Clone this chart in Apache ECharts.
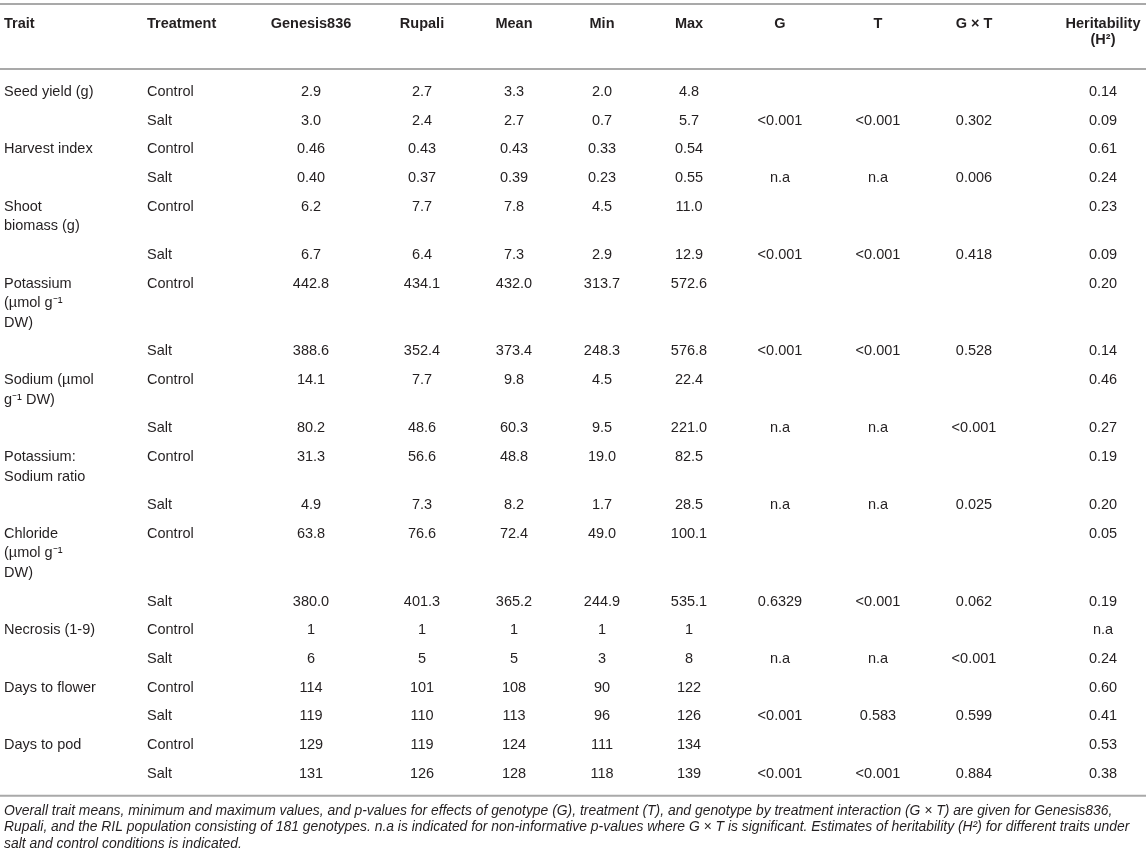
<!DOCTYPE html>
<html>
<head>
<meta charset="UTF-8">
<title>Trait summary</title>
<script type="text/javascript" src="https://cdn.jsdelivr.net/npm/echarts@6/dist/echarts.min.js"></script>
<style>html,body{margin:0;padding:0;background:#fff;}</style>
</head>
<body>
<div id="div" style="width:1146px;height:864px"></div>
<script type="text/javascript">
// table content
var headers = ['Trait', 'Treatment', 'Genesis836', 'Rupali', 'Mean', 'Min', 'Max', 'G', 'T', 'G \u00d7 T', 'Heritability\n(H\u00b2)'];
var traits = ['Seed yield (g)', 'Harvest index', 'Shoot\nbiomass (g)', 'Potassium\n(\u00b5mol g\u207b\u00b9\nDW)',
	'Sodium (\u00b5mol\ng\u207b\u00b9 DW)', 'Potassium:\nSodium ratio', 'Chloride\n(\u00b5mol g\u207b\u00b9\nDW)',
	'Necrosis (1-9)', 'Days to flower', 'Days to pod'];
var treatments = ['Control', 'Salt'];
var genesis836 = ['2.9', '3.0', '0.46', '0.40', '6.2', '6.7', '442.8', '388.6', '14.1', '80.2', '31.3', '4.9', '63.8', '380.0', '1', '6', '114', '119', '129', '131'];
var rupali = ['2.7', '2.4', '0.43', '0.37', '7.7', '6.4', '434.1', '352.4', '7.7', '48.6', '56.6', '7.3', '76.6', '401.3', '1', '5', '101', '110', '119', '126'];
var means = ['3.3', '2.7', '0.43', '0.39', '7.8', '7.3', '432.0', '373.4', '9.8', '60.3', '48.8', '8.2', '72.4', '365.2', '1', '5', '108', '113', '124', '128'];
var mins = ['2.0', '0.7', '0.33', '0.23', '4.5', '2.9', '313.7', '248.3', '4.5', '9.5', '19.0', '1.7', '49.0', '244.9', '1', '3', '90', '96', '111', '118'];
var maxs = ['4.8', '5.7', '0.54', '0.55', '11.0', '12.9', '572.6', '576.8', '22.4', '221.0', '82.5', '28.5', '100.1', '535.1', '1', '8', '122', '126', '134', '139'];
var pG = ['', '<0.001', '', 'n.a', '', '<0.001', '', '<0.001', '', 'n.a', '', 'n.a', '', '0.6329', '', 'n.a', '', '<0.001', '', '<0.001'];
var pT = ['', '<0.001', '', 'n.a', '', '<0.001', '', '<0.001', '', 'n.a', '', 'n.a', '', '<0.001', '', 'n.a', '', '0.583', '', '<0.001'];
var pGxT = ['', '0.302', '', '0.006', '', '0.418', '', '0.528', '', '<0.001', '', '0.025', '', '0.062', '', '<0.001', '', '0.599', '', '0.884'];
var heritability = ['0.14', '0.09', '0.61', '0.24', '0.23', '0.09', '0.20', '0.14', '0.46', '0.27', '0.19', '0.20', '0.05', '0.19', 'n.a', '0.24', '0.60', '0.41', '0.53', '0.38'];
var footnote = [
	'Overall trait means, minimum and maximum values, and p-values for effects of genotype (G), treatment (T), and genotype by treatment interaction (G \u00d7 T) are given for Genesis836,',
	'Rupali, and the RIL population consisting of 181 genotypes. n.a is indicated for non-informative p-values where G \u00d7 T is significant. Estimates of heritability (H\u00b2) for different traits under',
	'salt and control conditions is indicated.'
];

// layout (pixels of the 1146 x 864 axis space)
var colX = [4, 147, 311, 422, 514, 602, 689, 780, 878, 974, 1103];
var colAlign = ['left', 'left', 'center', 'center', 'center', 'center', 'center', 'center', 'center', 'center', 'center'];
var headY = 24, firstRowY = 92, rowPitch = 28.7, lineStep = 19.5, ruleGap = 22;
var noteGap = 15, noteStep = 16.5;
var textColor = '#231f20', ruleColor = '#a9a9a9';
var fontFamily = '"Liberation Sans", Arial, Helvetica, sans-serif';

var numCols = [genesis836, rupali, means, mins, maxs, pG, pT, pGxT, heritability];

// rows: each trait has Control and Salt lines
var rowY = [];
var cells = [];
var y = firstRowY;
traits.forEach(function (t, i) {
	treatments.forEach(function (tr, j) {
		var r = i * 2 + j;
		var lines = j === 0 ? t.split('\n').length : 1;
		rowY.push(y);
		if (j === 0) cells.push([0, y, t]);
		cells.push([1, y, tr]);
		numCols.forEach(function (col, c) {
			if (col[r] !== '') cells.push([c + 2, y, col[r]]);
		});
		y += rowPitch + (lines - 1) * lineStep;
	});
});
var lastY = rowY[rowY.length - 1];
var rules = [4, firstRowY - 23, lastY + ruleGap];
var headCells = headers.map(function (h, c) { return [c, headY, h]; });
var noteCells = footnote.map(function (l, k) { return [0, lastY + ruleGap + noteGap + k * noteStep, l]; });

function makeRender(list, font, lh) {
	return function (params, api) {
		var cell = list[params.dataIndex];
		var pt = api.coord([colX[cell[0]], cell[1]]);
		return {
			type: 'text',
			x: pt[0],
			y: pt[1] - lh / 2,
			style: {
				text: cell[2],
				font: font,
				fill: textColor,
				align: colAlign[cell[0]],
				verticalAlign: 'top',
				lineHeight: lh
			}
		};
	};
}

var mychart = echarts.init(document.getElementById('div'));
var option = {
	animation: false,
	grid: { left: 0, right: 0, top: 0, bottom: 0 },
	xAxis: { type: 'value', min: 0, max: 1146, show: false },
	yAxis: { type: 'value', min: 0, max: 864, inverse: true, show: false },
	series: [{
		type: 'custom',
		data: rules.map(function (v) { return [0, v]; }),
		renderItem: function (params, api) {
			var a = api.coord([0, api.value(1)]);
			var b = api.coord([1146, api.value(1)]);
			return { type: 'line', shape: { x1: a[0], y1: a[1], x2: b[0], y2: b[1] }, style: { stroke: ruleColor, lineWidth: 2 } };
		}
	}, {
		type: 'custom',
		data: headCells.map(function (c) { return [colX[c[0]], c[1]]; }),
		renderItem: makeRender(headCells, 'bold 14.5px ' + fontFamily, 16)
	}, {
		type: 'custom',
		data: cells.map(function (c) { return [colX[c[0]], c[1]]; }),
		renderItem: makeRender(cells, '14.5px ' + fontFamily, lineStep)
	}, {
		type: 'custom',
		data: noteCells.map(function (c) { return [colX[c[0]], c[1]]; }),
		renderItem: makeRender(noteCells, 'italic 13.9px ' + fontFamily, noteStep)
	}]
};
mychart.setOption(option);
</script>
</body>
</html>
